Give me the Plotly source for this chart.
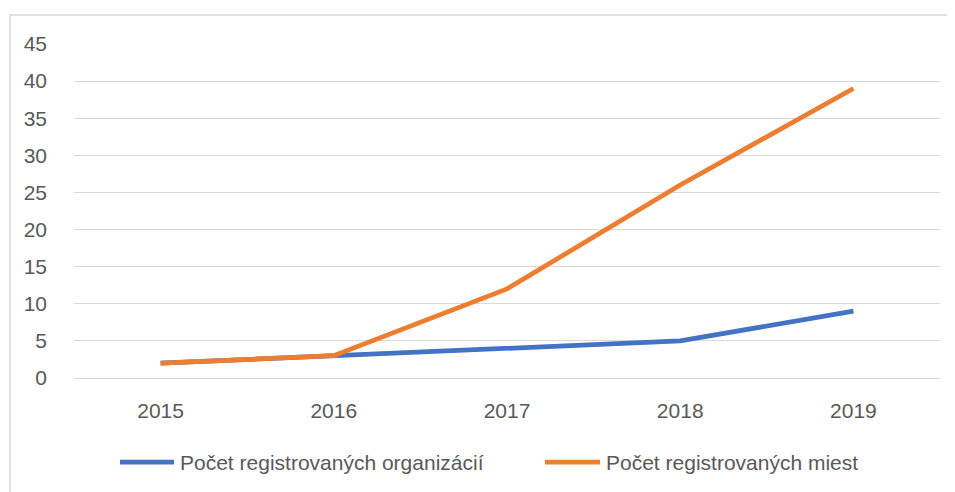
import plotly.graph_objects as go

years = ["2015", "2016", "2017", "2018", "2019"]
organizacie = [2, 3, 4, 5, 9]
miesta = [2, 3, 12, 26, 39]
y_ticks = [0, 5, 10, 15, 20, 25, 30, 35, 40, 45]
series_names = ["Počet registrovaných organizácií", "Počet registrovaných miest"]
series_colors = ["#4472C4", "#ED7D31"]

OFF = 8  # page body margin
W, H = 955 - OFF, 492 - OFF
L, R, T, B = 74 - OFF, 15, 44 - OFF, 492 - 378
pw, ph = W - L - R, H - T - B

def px_x(p):
    return (p - OFF - L) / pw

def px_y(p):
    return (H - B - (p - OFF)) / ph

font = "Liberation Sans"
grey = "#595959"

fig = go.Figure()
for vals, name, col in zip([organizacie, miesta], series_names, series_colors):
    fig.add_trace(go.Scatter(x=years, y=vals, mode="lines", name=name,
                             line=dict(color=col, width=4.75)))

shapes = [dict(type="rect", xref="paper", yref="paper",
               x0=px_x(10), x1=px_x(975), y0=px_y(510), y1=px_y(15),
               line=dict(color="#D9D9D9", width=1.5), fillcolor="rgba(0,0,0,0)",
               layer="below")]
annotations = []
legend_y = 462
for (lx0, lx1, tx), name, col in zip([(120, 174, 178), (545, 600, 604)],
                                     series_names, series_colors):
    shapes.append(dict(type="line", xref="paper", yref="paper",
                       x0=px_x(lx0), x1=px_x(lx1), y0=px_y(legend_y), y1=px_y(legend_y),
                       line=dict(color=col, width=4.75)))
    annotations.append(dict(xref="paper", yref="paper", x=px_x(tx), y=px_y(legend_y),
                            xanchor="left", yanchor="middle", text=name,
                            showarrow=False,
                            font=dict(family=font, size=21, color=grey)))

fig.update_layout(
    width=W, height=H,
    margin=dict(l=L, r=R, t=T, b=B),
    paper_bgcolor="white", plot_bgcolor="white",
    font=dict(family=font, size=21, color=grey),
    xaxis=dict(type="category", range=[-0.5, 4.5], showgrid=False,
               showline=True, linecolor="#D9D9D9", linewidth=1,
               ticks="", ticklabelstandoff=14, zeroline=False,
               tickfont=dict(size=21, color=grey), fixedrange=True),
    yaxis=dict(range=[0, 45], tickvals=y_ticks, showgrid=True,
               gridcolor="#D9D9D9", gridwidth=1, zeroline=False,
               showline=False, ticks="", ticklabelstandoff=26,
               tickfont=dict(size=21, color=grey), fixedrange=True),
    showlegend=False,
    shapes=shapes,
    annotations=annotations,
)

fig.write_html("out.html")
